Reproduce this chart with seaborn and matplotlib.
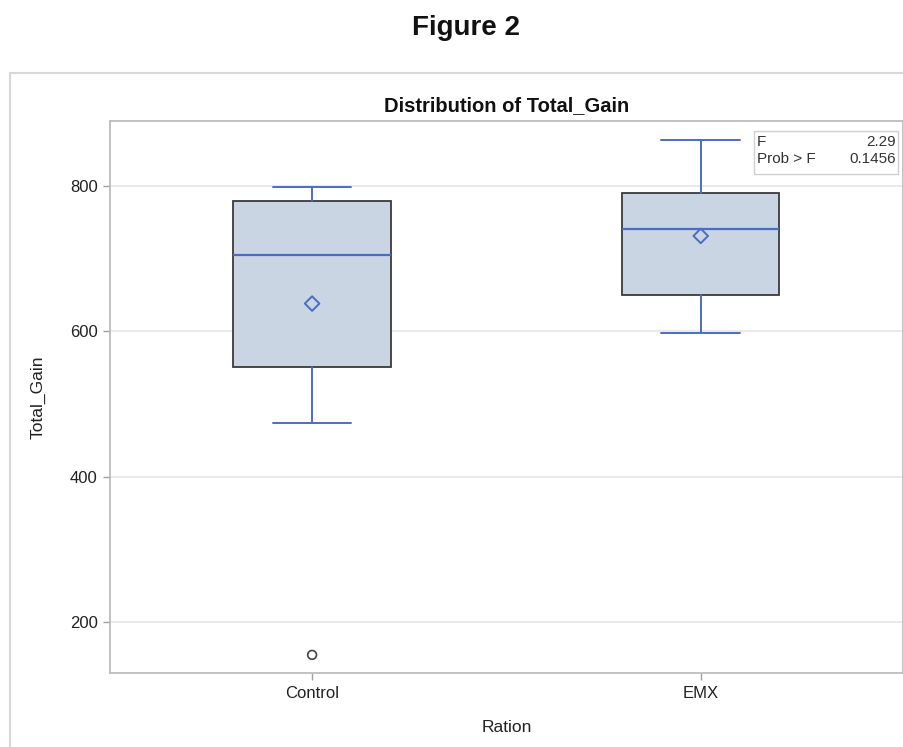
"""
Box plot of Total_Gain by Ration (SAS-style), with F test inset.
"""

import matplotlib
matplotlib.use("Agg")
import matplotlib.pyplot as plt
from matplotlib.patches import Rectangle
import seaborn as sns
import pandas as pd

# summary statistics
rations = ["Control", "EMX"]
whisker_low = [474, 598]
q1 = [551, 650]
median = [705, 741]
q3 = [779, 790]
whisker_high = [798, 863]
means = [638, 731]
outlier_ration = ["Control"]
outlier_value = [155]

f_value = "2.29"
prob_f = "0.1456"

sns.set_theme(style="whitegrid")
plt.rcParams["font.family"] = ["Liberation Sans", "DejaVu Sans"]

BLUE = "#4a6cc4"
FILL = "#c9d5e3"
EDGE = "#3a3a3a"
SPINE = "#bdbdbd"

fig = plt.figure(figsize=(9.04, 7.47), dpi=100)
ax = fig.add_axes([0.1217, 0.099, 0.877, 0.739])

stats = []
for i, name in enumerate(rations):
    stats.append({
        "label": name,
        "whislo": whisker_low[i],
        "q1": q1[i],
        "med": median[i],
        "q3": q3[i],
        "whishi": whisker_high[i],
        "fliers": [],
    })

ax.bxp(
    stats,
    positions=range(len(rations)),
    widths=0.405,
    patch_artist=True,
    showfliers=False,
    boxprops=dict(facecolor=FILL, edgecolor=EDGE, linewidth=1.3),
    medianprops=dict(color=BLUE, linewidth=1.6),
    whiskerprops=dict(color=BLUE, linewidth=1.4),
    capprops=dict(color=BLUE, linewidth=1.4),
    zorder=3,
)

mean_df = pd.DataFrame({"Ration": rations, "Mean": means})
sns.scatterplot(data=mean_df, x="Ration", y="Mean", marker="D", s=55,
                facecolor="none", edgecolor=BLUE, linewidth=1.4, ax=ax, zorder=4)

out_df = pd.DataFrame({"Ration": outlier_ration, "Total_Gain": outlier_value})
sns.scatterplot(data=out_df, x="Ration", y="Total_Gain", marker="o", s=40,
                facecolor="none", edgecolor="#444444", linewidth=1.2, ax=ax, zorder=4)

ax.set_xlim(-0.52, 1.52)
ax.set_ylim(130, 889)
ax.set_yticks([200, 400, 600, 800])
ax.set_xticks(range(len(rations)))
ax.set_xticklabels(rations)
ax.grid(axis="x", visible=False)
ax.grid(axis="y", color="#e6e6e6", linewidth=1.2)
ax.set_axisbelow(True)
for sp in ax.spines.values():
    sp.set_color(SPINE)
    sp.set_linewidth(1.3)
ax.tick_params(axis="both", which="both", length=5, width=1, color="#a0a0a0",
               labelsize=12, labelcolor="#222222", pad=4, left=True, bottom=True)

ax.set_xlabel("Ration", fontsize=12.5, color="#222222", labelpad=14)
ax.set_ylabel("Total_Gain", fontsize=12.5, color="#222222", labelpad=17)
ax.set_title("Distribution of Total_Gain", fontsize=14.5, fontweight="bold",
             color="#111111", pad=7)

# F test inset
ax.text(0.816, 0.975, "F", transform=ax.transAxes, fontsize=11, va="top",
        ha="left", color="#333333", zorder=6)
ax.text(0.991, 0.975, f_value, transform=ax.transAxes, fontsize=11, va="top",
        ha="right", color="#333333", zorder=6)
ax.text(0.816, 0.943, "Prob > F", transform=ax.transAxes, fontsize=11,
        va="top", ha="left", color="#333333", zorder=6)
ax.text(0.991, 0.943, prob_f, transform=ax.transAxes, fontsize=11, va="top",
        ha="right", color="#333333", zorder=6)
ax.add_patch(Rectangle((0.812, 0.904), 0.182, 0.078, transform=ax.transAxes,
                       facecolor="white", edgecolor="#d0d0d0", linewidth=1,
                       zorder=5))

# outer graph frame
fig.patches.append(Rectangle((10 / 904, -0.05), 1.0, 1 - 73 / 747 + 0.05,
                             transform=fig.transFigure, fill=False,
                             edgecolor="#d8d8d8", linewidth=1.5))

fig.text(466 / 904, 1 - 28 / 747, "Figure 2", ha="center", va="center",
         fontsize=20, fontweight="bold", color="#111111")

fig.savefig("out.png", dpi=100)
